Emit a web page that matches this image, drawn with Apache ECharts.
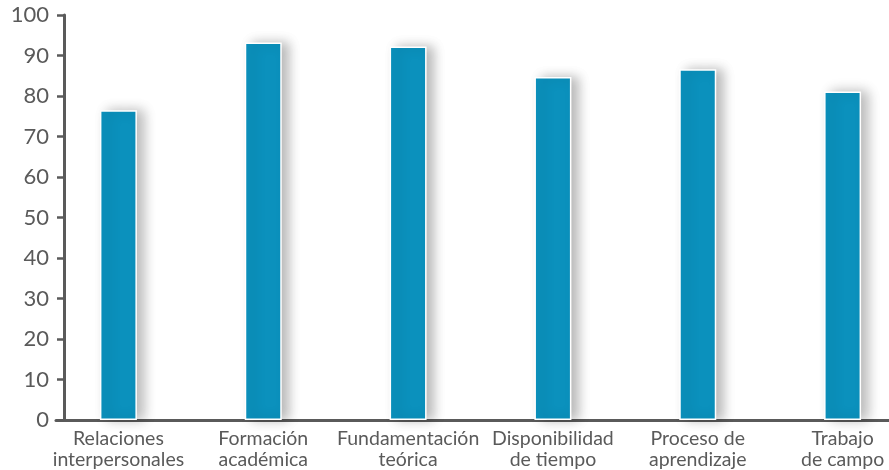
<!DOCTYPE html>
<html><head><meta charset="utf-8">
<script src="https://cdn.jsdelivr.net/npm/echarts@6/dist/echarts.min.js"></script>
<style>html,body{margin:0;padding:0;background:#fff}#c{width:889px;height:470px}</style>
</head><body><div id="c"></div>
<script>
const categories = ["Relaciones\ninterpersonales", "Formación\nacadémica", "Fundamentación\nteórica", "Disponibilidad\nde tiempo", "Proceso de\naprendizaje", "Trabajo\nde campo"];
const values = [76.5, 93.2, 92.2, 84.7, 86.6, 81.1];
const yTicks = [0, 10, 20, 30, 40, 50, 60, 70, 80, 90, 100];

const FONT = 'Lato';
const AX = '#5a5a5a';
const chart = echarts.init(document.getElementById('c'), null, {renderer: 'canvas'});
chart.setOption({
  animation: false,
  backgroundColor: '#fff',
  grid: [
    {left: 56, right: 0, top: 15, bottom: 50, outerBoundsMode: 'none'},
    {left: 46, width: 869, top: 15, bottom: 50, outerBoundsMode: 'none'}
  ],
  xAxis: [
    {gridIndex: 0, type: 'category', data: categories, boundaryGap: true,
     axisLine: {show: true, lineStyle: {color: AX, width: 3}},
     axisTick: {show: false}, axisLabel: {show: false}, splitLine: {show: false}},
    {gridIndex: 1, type: 'category', data: categories, boundaryGap: true,
     axisLine: {show: false}, axisTick: {show: false}, splitLine: {show: false},
     axisLabel: {color: '#5a5a5a', fontFamily: FONT, fontSize: 19.5, lineHeight: 21, margin: 8, interval: 0}}
  ],
  yAxis: [
    {gridIndex: 0, type: 'value', min: yTicks[0], max: yTicks[yTicks.length - 1], interval: 10, offset: -8,
     axisLine: {show: true, lineStyle: {color: AX, width: 3}},
     axisTick: {show: true, length: 7, lineStyle: {color: AX, width: 2.5}},
     axisLabel: {color: '#5a5a5a', fontFamily: FONT, fontSize: 22, margin: 15},
     splitLine: {show: false}},
    {gridIndex: 1, type: 'value', min: yTicks[0], max: yTicks[yTicks.length - 1], interval: 10, show: false,
     splitLine: {show: false}}
  ],
  series: [{
    type: 'bar', xAxisIndex: 1, yAxisIndex: 1, data: values, barWidth: 37,
    itemStyle: {color: '#0b91bd', borderColor: '#ffffff', borderWidth: 1.5,
      shadowColor: 'rgba(0,0,0,0.28)', shadowBlur: 12, shadowOffsetX: 7, shadowOffsetY: 0}
  }]
});
</script></body></html>
